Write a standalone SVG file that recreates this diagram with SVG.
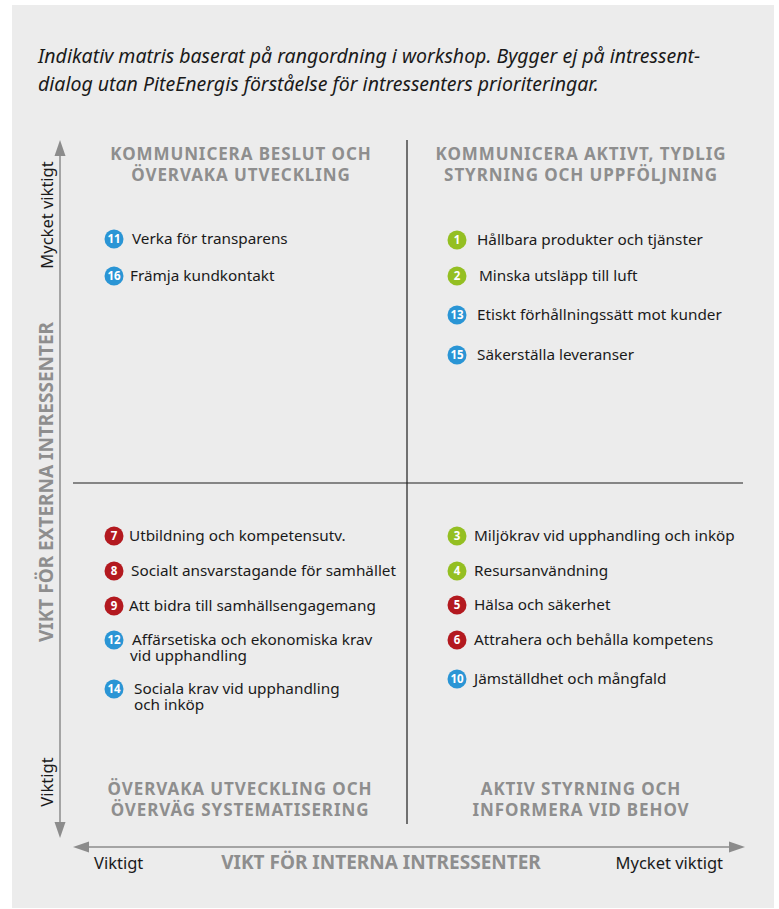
<svg xmlns="http://www.w3.org/2000/svg" width="779" height="909" viewBox="0 0 779 909">
<defs>
<style>
.bg{fill:#ececec}
.title{font-family:"Noto Sans","Liberation Sans",sans-serif;font-style:italic;font-size:19.5px;fill:#1a1a1a}
.hdr{font-family:"Noto Sans","Liberation Sans",sans-serif;font-weight:bold;font-size:17px;letter-spacing:0.9px;fill:#8e8e8e;text-anchor:middle}
.axt{font-family:"Noto Sans","Liberation Sans",sans-serif;font-weight:bold;font-size:19px;fill:#8e8e8e;text-anchor:middle}
.lbl{font-family:"Noto Sans","Liberation Sans",sans-serif;font-size:16.5px;fill:#1a1a1a}
.item{font-family:"Noto Sans","Liberation Sans",sans-serif;font-size:15.3px;fill:#1a1a1a}
.num{font-family:"Noto Sans","Liberation Sans",sans-serif;font-weight:bold;font-size:11.5px;fill:#ffffff;text-anchor:middle}
.g{fill:#94bf22}
.b{fill:#2a95d5}
.r{fill:#b3191f}
.div{stroke:#1e1e1e;stroke-width:1.2;fill:none}
.ax{stroke:#8c8c8c;stroke-width:1.5;fill:none}
.ah{fill:#8c8c8c}
</style>
</defs>
<rect class="bg" x="12" y="5" width="762" height="903"/>
<g id="title">
<text class="title" x="38" y="63">Indikativ matris baserat på rangordning i workshop. Bygger ej på intressent-</text>
<text class="title" x="38" y="91">dialog utan PiteEnergis förståelse för intressenters prioriteringar.</text>
</g>
<g id="connectors">
<line class="div" x1="407" y1="140" x2="407" y2="824"/>
<line class="div" x1="73" y1="483" x2="743" y2="483"/>
<line class="ax" x1="60" y1="152" x2="60" y2="825"/>
<polygon class="ah" points="60,140 54.5,156 65.5,156"/>
<polygon class="ah" points="60,838 54.5,822 65.5,822"/>
<line class="ax" x1="85" y1="847" x2="733" y2="847"/>
<polygon class="ah" points="73,847 89,841.5 89,852.5"/>
<polygon class="ah" points="745,847 729,841.5 729,852.5"/>
</g>
<g id="axis-labels">
<text class="lbl" transform="translate(53,215) rotate(-90)" text-anchor="middle">Mycket viktigt</text>
<text class="lbl" transform="translate(53,782) rotate(-90)" text-anchor="middle">Viktigt</text>
<text class="axt" transform="translate(53,482) rotate(-90)">VIKT FÖR EXTERNA INTRESSENTER</text>
<text class="lbl" x="94" y="869">Viktigt</text>
<text class="lbl" x="723" y="869" text-anchor="end">Mycket viktigt</text>
<text class="axt" x="381" y="869">VIKT FÖR INTERNA INTRESSENTER</text>
</g>
<g id="q-top-left">
<text class="hdr" x="241" y="160">KOMMUNICERA BESLUT OCH</text>
<text class="hdr" x="241" y="181">ÖVERVAKA UTVECKLING</text>
<g id="item-11"><circle class="b" cx="114" cy="239" r="9.5"/><text class="num" x="114" y="243">11</text><text class="item" x="132" y="244">Verka för transparens</text></g>
<g id="item-16"><circle class="b" cx="114" cy="276" r="9.5"/><text class="num" x="114" y="280">16</text><text class="item" x="130" y="281">Främja kundkontakt</text></g>
</g>
<g id="q-top-right">
<text class="hdr" x="581" y="160">KOMMUNICERA AKTIVT, TYDLIG</text>
<text class="hdr" x="581" y="181">STYRNING OCH UPPFÖLJNING</text>
<g id="item-1"><circle class="g" cx="457" cy="240" r="9.5"/><text class="num" x="457" y="244">1</text><text class="item" x="477" y="245">Hållbara produkter och tjänster</text></g>
<g id="item-2"><circle class="g" cx="457" cy="276" r="9.5"/><text class="num" x="457" y="280">2</text><text class="item" x="479" y="281">Minska utsläpp till luft</text></g>
<g id="item-13"><circle class="b" cx="457" cy="315" r="9.5"/><text class="num" x="457" y="319">13</text><text class="item" x="477" y="320">Etiskt förhållningssätt mot kunder</text></g>
<g id="item-15"><circle class="b" cx="457" cy="355" r="9.5"/><text class="num" x="457" y="359">15</text><text class="item" x="477" y="360">Säkerställa leveranser</text></g>
</g>
<g id="q-bottom-left">
<g id="item-7"><circle class="r" cx="114" cy="536" r="9.5"/><text class="num" x="114" y="540">7</text><text class="item" x="129" y="541">Utbildning och kompetensutv.</text></g>
<g id="item-8"><circle class="r" cx="114" cy="571" r="9.5"/><text class="num" x="114" y="575">8</text><text class="item" x="131" y="576">Socialt ansvarstagande för samhället</text></g>
<g id="item-9"><circle class="r" cx="114" cy="606" r="9.5"/><text class="num" x="114" y="610">9</text><text class="item" x="129" y="611">Att bidra till samhällsengagemang</text></g>
<g id="item-12"><circle class="b" cx="114" cy="640" r="9.5"/><text class="num" x="114" y="644">12</text><text class="item" x="132" y="645">Affärsetiska och ekonomiska krav</text><text class="item" x="130" y="661">vid upphandling</text></g>
<g id="item-14"><circle class="b" cx="114" cy="689" r="9.5"/><text class="num" x="114" y="693">14</text><text class="item" x="134" y="694">Sociala krav vid upphandling</text><text class="item" x="134" y="710">och inköp</text></g>
<text class="hdr" x="240" y="795">ÖVERVAKA UTVECKLING OCH</text>
<text class="hdr" x="240" y="816">ÖVERVÄG SYSTEMATISERING</text>
</g>
<g id="q-bottom-right">
<g id="item-3"><circle class="g" cx="457" cy="536" r="9.5"/><text class="num" x="457" y="540">3</text><text class="item" x="474" y="541">Miljökrav vid upphandling och inköp</text></g>
<g id="item-4"><circle class="g" cx="457" cy="571" r="9.5"/><text class="num" x="457" y="575">4</text><text class="item" x="474" y="576">Resursanvändning</text></g>
<g id="item-5"><circle class="r" cx="457" cy="605" r="9.5"/><text class="num" x="457" y="609">5</text><text class="item" x="474" y="610">Hälsa och säkerhet</text></g>
<g id="item-6"><circle class="r" cx="457" cy="640" r="9.5"/><text class="num" x="457" y="644">6</text><text class="item" x="474" y="645">Attrahera och behålla kompetens</text></g>
<g id="item-10"><circle class="b" cx="457" cy="679" r="9.5"/><text class="num" x="457" y="683">10</text><text class="item" x="474" y="684">Jämställdhet och mångfald</text></g>
<text class="hdr" x="581" y="795">AKTIV STYRNING OCH</text>
<text class="hdr" x="581" y="816">INFORMERA VID BEHOV</text>
</g>
</svg>
